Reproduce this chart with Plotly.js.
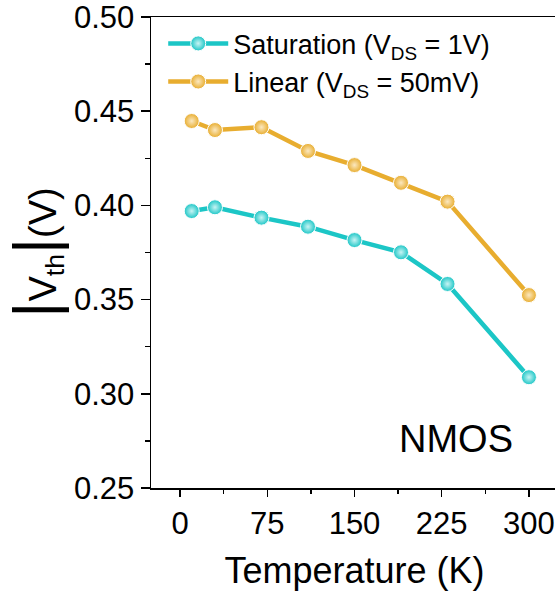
<!DOCTYPE html>
<html>
<head>
<meta charset="utf-8">
<script src="https://cdn.plot.ly/plotly-3.0.1.min.js"></script>
<style>
html, body { margin: 0; padding: 0; overflow: hidden; background: #fff; }
#chart { width: 560px; height: 592px; }
</style>
</head>
<body>
<div id="chart"></div>
<script>
// Data
const temperatures = [10, 30, 70, 110, 150, 190, 230, 300];
const vthSaturation = [0.397, 0.399, 0.3935, 0.3887, 0.3816, 0.3751, 0.3583, 0.3088];
const vthLinear = [0.4448, 0.4400, 0.4415, 0.4289, 0.4214, 0.4120, 0.4020, 0.3524];
const seriesNames = ['Saturation (V<sub>DS</sub> = 1V)', 'Linear (V<sub>DS</sub> = 50mV)'];
const xTickVals = [0, 75, 150, 225, 300];
const yTickVals = [0.25, 0.30, 0.35, 0.40, 0.45, 0.50];

const cyan = '#1cc6c6';
const orange = '#e8ad2f';
const FONT = 'Liberation Sans, Arial, sans-serif';

function trace(y, name, color, glow) {
  return {
    x: temperatures, y: y, name: name, type: 'scatter', mode: 'lines+markers',
    line: { color: color, width: 4.5 },
    marker: { size: 15, color: color, gradient: { type: 'radial', color: glow },
              line: { color: '#ffffff', width: 1 } }
  };
}

const data = [
  trace(vthSaturation, seriesNames[0], cyan, '#c8f4f4'),
  trace(vthLinear, seriesNames[1], orange, '#fbe8c0')
];

const bar = "<span style='font-size:62px'>|</span>";
const layout = {
  width: 560, height: 592,
  margin: { l: 151, r: 2, t: 17, b: 104 },
  paper_bgcolor: '#ffffff', plot_bgcolor: '#ffffff',
  font: { family: FONT, color: '#000' },
  showlegend: true,
  legend: { x: 0.03, y: 0.995, xanchor: 'left', yanchor: 'top', itemwidth: 60,
            font: { size: 27, family: FONT, color: '#000' },
            bgcolor: 'rgba(0,0,0,0)', tracegroupgap: 0 },
  xaxis: {
    range: [-25, 325], tickvals: xTickVals, ticktext: xTickVals.map(String),
    ticks: 'outside', ticklen: 7, tickwidth: 1.5, tickcolor: '#000',
    minor: { dtick: 37.5, tick0: 0, ticks: 'outside', ticklen: 4, tickwidth: 1.5, tickcolor: '#000' },
    showline: true, linecolor: '#000', linewidth: 1.5, mirror: true,
    showgrid: false, zeroline: false, ticklabeloverflow: 'allow',
    tickfont: { size: 31, family: FONT, color: '#000' },
    title: { text: 'Temperature (K)', font: { size: 36, family: FONT, color: '#000' }, standoff: 18 }
  },
  yaxis: {
    range: [0.25, 0.50], tickvals: yTickVals, ticktext: yTickVals.map(v => v.toFixed(2)),
    ticks: 'outside', ticklen: 9, tickwidth: 1.5, tickcolor: '#000',
    minor: { dtick: 0.025, tick0: 0.25, ticks: 'outside', ticklen: 5, tickwidth: 1.5, tickcolor: '#000' },
    showline: true, linecolor: '#000', linewidth: 1.5, mirror: true,
    showgrid: false, zeroline: false, ticklabeloverflow: 'allow',
    tickfont: { size: 31, family: FONT, color: '#000' },
    title: { text: bar + 'V<sub>th</sub>' + bar + '(V)',
             font: { size: 38, family: 'Liberation Sans Narrow, Liberation Sans, Arial, sans-serif', color: '#000' },
             standoff: 6 }
  },
  annotations: [{
    text: 'NMOS', xref: 'paper', yref: 'paper', x: 0.749, y: 0.104,
    xanchor: 'center', yanchor: 'middle', showarrow: false,
    font: { size: 38, family: FONT, color: '#000' }
  }]
};

Plotly.newPlot('chart', data, layout, { displayModeBar: false, staticPlot: true });
</script>
</body>
</html>
